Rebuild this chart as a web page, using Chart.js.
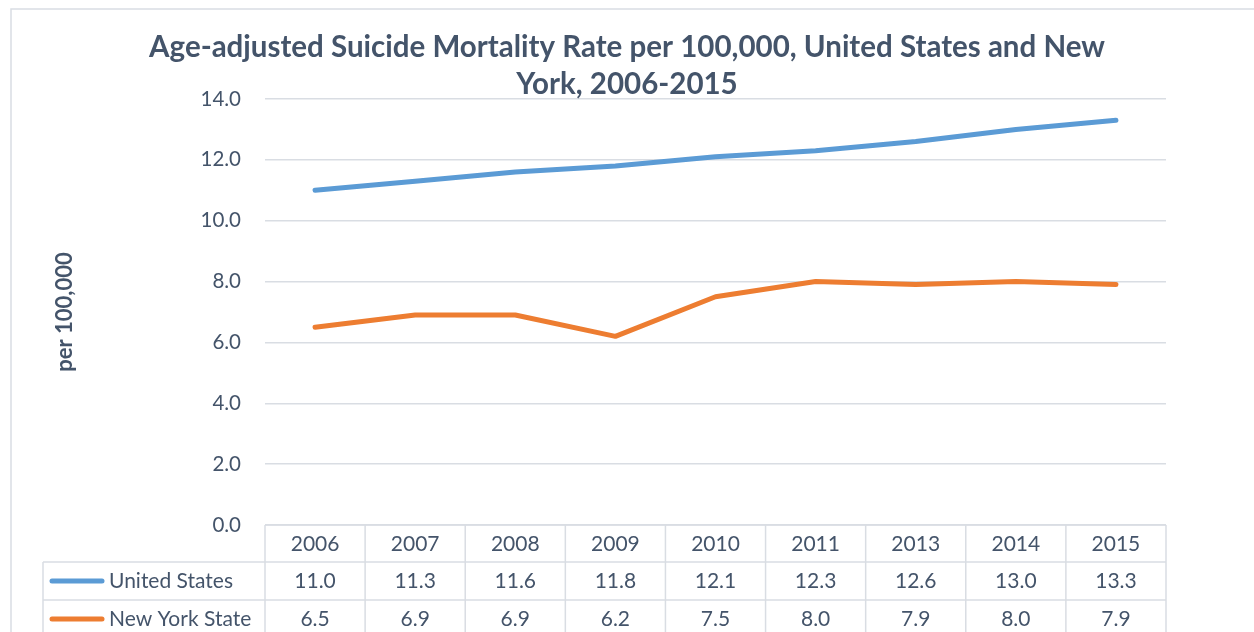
<!DOCTYPE html>
<html>
<head>
<meta charset="utf-8">
<title>Age-adjusted Suicide Mortality Rate</title>
<script src="https://cdn.jsdelivr.net/npm/chart.js@4/dist/chart.umd.min.js"></script>
<style>
  html, body { margin: 0; padding: 0; background: #ffffff; }
  #wrap { width: 1254px; height: 632px; }
</style>
</head>
<body>
<div id="wrap"><canvas id="suicideChart" width="1254" height="632"></canvas></div>
<script>
// DATA
const years = ["2006", "2007", "2008", "2009", "2010", "2011", "2013", "2014", "2015"];
const usRates = [11.0, 11.3, 11.6, 11.8, 12.1, 12.3, 12.6, 13.0, 13.3];
const nyRates = [6.5, 6.9, 6.9, 6.2, 7.5, 8.0, 7.9, 8.0, 7.9];
const seriesNames = ["United States", "New York State"];
const titleLines = ["Age-adjusted Suicide Mortality Rate per 100,000, United States and New", "York, 2006-2015"];
const yTitle = "per 100,000";

// STYLE
const textColor = "#44546A";
const gridColor = "#D9DDE3";
const usColor = "#5B9BD5";
const nyColor = "#ED7D31";
const fontFamily = "Lato, 'Open Sans', sans-serif";

// FRAME (outer chart border, cut off at right/bottom like the source)
const framePlugin = {
  id: "frame",
  beforeDraw(chart) {
    const { ctx } = chart;
    ctx.save();
    ctx.strokeStyle = gridColor;
    ctx.lineWidth = 1.5;
    ctx.beginPath();
    ctx.moveTo(11, chart.height + 5);
    ctx.lineTo(11, 9);
    ctx.lineTo(chart.width + 5, 9);
    ctx.stroke();
    ctx.restore();
  }
};

// DATA TABLE under the plot, columns follow the x scale
const dataTablePlugin = {
  id: "dataTable",
  afterDraw(chart) {
    const { ctx, chartArea, scales } = chart;
    const xScale = scales.x;
    const colW = chartArea.width / years.length;
    const headTop = chartArea.bottom;
    const headH = 37;
    const rowH = 38;
    const tableLeft = 43;
    const bottom = chart.height + 5;

    ctx.save();
    ctx.strokeStyle = gridColor;
    ctx.lineWidth = 1.5;
    ctx.beginPath();
    // horizontal rules
    ctx.moveTo(chartArea.left, headTop);
    ctx.lineTo(chartArea.right, headTop);
    for (let r = 0; r <= chart.data.datasets.length; r++) {
      const y = headTop + headH + r * rowH;
      ctx.moveTo(tableLeft, y);
      ctx.lineTo(chartArea.right, y);
    }
    // vertical rules
    for (let i = 0; i <= years.length; i++) {
      const x = chartArea.left + i * colW;
      ctx.moveTo(x, headTop);
      ctx.lineTo(x, bottom);
    }
    ctx.moveTo(tableLeft, headTop + headH);
    ctx.lineTo(tableLeft, bottom);
    ctx.stroke();

    ctx.fillStyle = textColor;
    ctx.font = "21px " + fontFamily;
    ctx.textAlign = "center";
    ctx.textBaseline = "middle";
    years.forEach((yr, i) => {
      ctx.fillText(yr, xScale.getPixelForValue(i), headTop + headH / 2 + 1);
    });

    chart.data.datasets.forEach((ds, r) => {
      const cy = headTop + headH + r * rowH + rowH / 2;
      // legend key
      ctx.strokeStyle = ds.borderColor;
      ctx.lineWidth = 5;
      ctx.lineCap = "round";
      ctx.beginPath();
      ctx.moveTo(52, cy);
      ctx.lineTo(102, cy);
      ctx.stroke();
      ctx.textAlign = "left";
      ctx.fillText(ds.label, 109, cy);
      ctx.textAlign = "center";
      ds.data.forEach((v, i) => {
        ctx.fillText(v.toFixed(1), xScale.getPixelForValue(i), cy);
      });
    });
    ctx.restore();
  }
};

// CHART
new Chart(document.getElementById("suicideChart"), {
  type: "line",
  data: {
    labels: years,
    datasets: [
      {
        label: seriesNames[0],
        data: usRates,
        borderColor: usColor,
        backgroundColor: usColor,
        borderWidth: 5,
        borderCapStyle: "round",
        borderJoinStyle: "round",
        pointRadius: 0,
        tension: 0,
        fill: false
      },
      {
        label: seriesNames[1],
        data: nyRates,
        borderColor: nyColor,
        backgroundColor: nyColor,
        borderWidth: 5,
        borderCapStyle: "round",
        borderJoinStyle: "round",
        pointRadius: 0,
        tension: 0,
        fill: false
      }
    ]
  },
  options: {
    responsive: false,
    devicePixelRatio: 1,
    animation: false,
    layout: {
      padding: { left: 0, right: 0, top: 0, bottom: 107 }
    },
    plugins: {
      legend: { display: false },
      tooltip: { enabled: false },
      title: {
        display: true,
        text: titleLines,
        color: textColor,
        font: { family: fontFamily, size: 29.5, weight: "bold", lineHeight: "37px" },
        padding: { top: 28.5, bottom: -3.5 }
      }
    },
    scales: {
      x: {
        type: "category",
        offset: true,
        display: false
      },
      y: {
        min: 0,
        max: 14,
        border: { display: false },
        grid: { color: gridColor, lineWidth: 1.5, drawTicks: false },
        ticks: {
          stepSize: 2,
          padding: 24,
          color: textColor,
          font: { family: fontFamily, size: 20.5 },
          callback: (v) => Number(v).toFixed(1)
        },
        title: {
          display: true,
          text: yTitle,
          color: textColor,
          font: { family: fontFamily, size: 22, weight: "bold" },
          padding: { top: 52, bottom: 0 }
        },
        afterFit(scale) {
          scale.width = 265;
        }
      },
      // empty right-hand spacer so the title stays centred on the full width
      spacer: {
        type: "linear",
        position: "right",
        display: true,
        border: { display: false },
        grid: { display: false },
        ticks: { display: false },
        afterFit(scale) {
          scale.width = 88;
        }
      }
    }
  },
  plugins: [framePlugin, dataTablePlugin]
});
</script>
</body>
</html>
